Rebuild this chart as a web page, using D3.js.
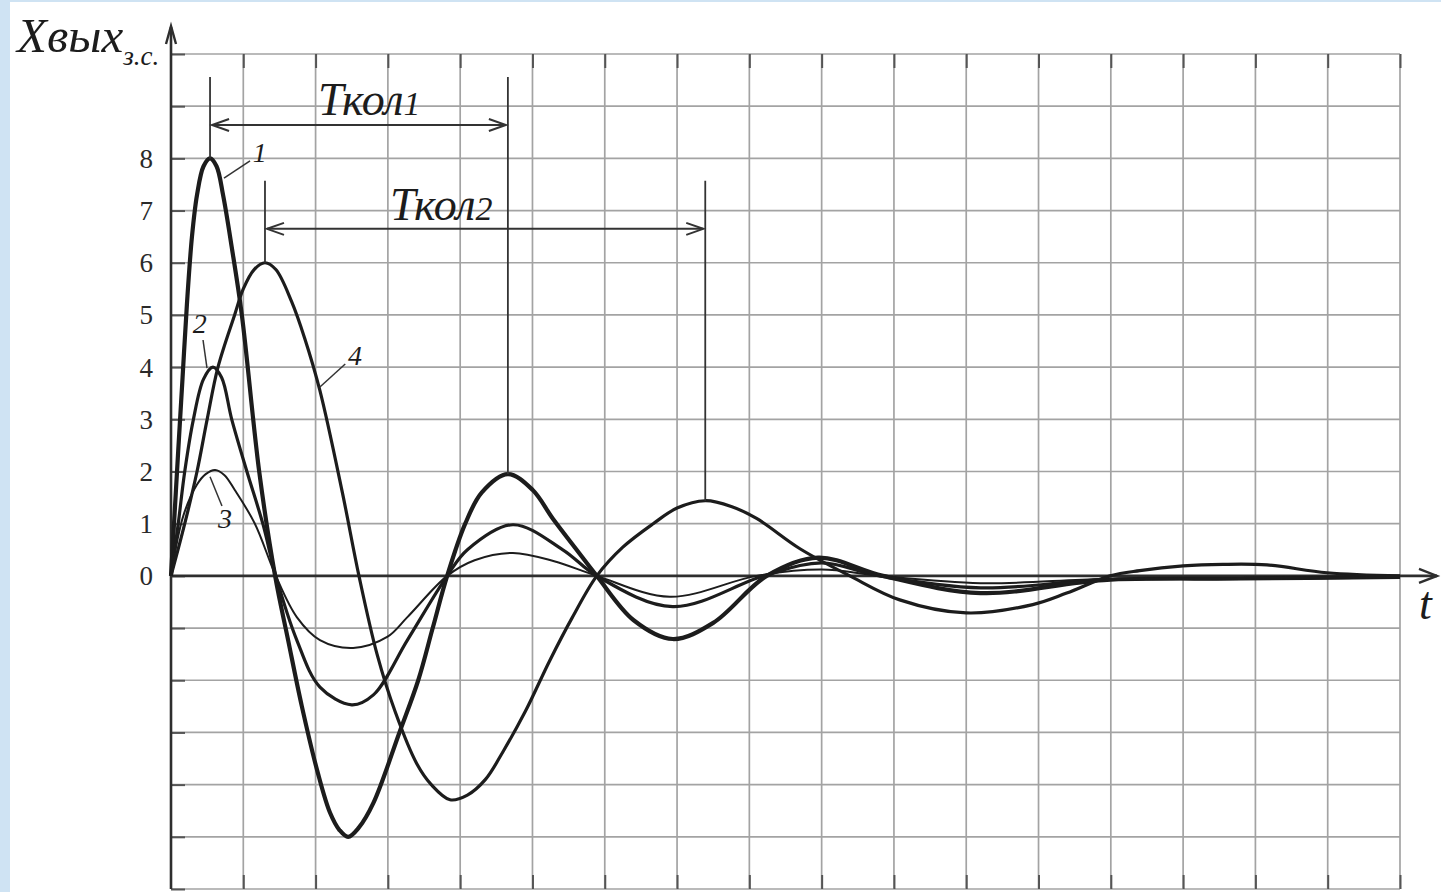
<!DOCTYPE html>
<html>
<head>
  <meta charset="utf-8">
  <title>Xвых з.с.</title>
  <script src="https://d3js.org/d3.v7.min.js"></script>
  <style type="text/css">
    body { margin: 0; background: #fff; }
  </style>
</head>
<body>
  <div id="viz"></div>

<script type="text/javascript">

  // time is counted in grid cells, output in grid units
  const t1 = [0, 0.05, 0.1, 0.16, 0.22, 0.29, 0.36, 0.45, 0.54, 0.63, 0.72, 0.84, 0.98, 1.22, 1.44, 1.62, 1.81, 2.03, 2.2, 2.33, 2.45, 2.6, 2.8, 3.16, 3.42, 3.62, 3.82, 4.07, 4.3, 4.66, 5.0, 5.28, 5.6, 5.89, 6.4, 6.94, 7.5, 8.24, 8.95, 9.85, 11.2, 12.9, 14.8, 17];
  const v1 = [0, 1.2, 2.4, 3.8, 5.2, 6.5, 7.3, 7.85, 8, 7.85, 7.3, 6.3, 5, 2, 0, -1.23, -2.5, -3.77, -4.54, -4.87, -5, -4.82, -4.35, -3, -2, -1, 0, 1, 1.6, 1.95, 1.65, 1.1, 0.52, 0, -0.85, -1.21, -0.9, 0, 0.35, 0, -0.33, -0.08, -0.05, -0.02];

  const t2 = [0, 0.1, 0.19, 0.31, 0.45, 0.58, 0.7, 0.84, 1.05, 1.27, 1.45, 1.74, 2.06, 2.5, 2.8, 3.27, 3.82, 4.1, 4.73, 5.42, 5.89, 6.94, 8.2, 9.0, 9.8, 11.2, 12.9, 14.8, 17];
  const v2 = [0, 1.0, 2, 3, 3.77, 4, 3.8, 3, 2, 1, 0, -1.23, -2.13, -2.47, -2.28, -1.23, 0, 0.5, 0.98, 0.5, 0, -0.59, 0, 0.25, 0, -0.23, -0.07, -0.05, -0.02];

  const t3 = [0, 0.17, 0.36, 0.48, 0.61, 0.74, 0.88, 1.16, 1.45, 1.74, 2.06, 2.52, 2.99, 3.27, 3.82, 4.2, 4.73, 5.3, 5.89, 6.9, 8.1, 9.0, 9.8, 11.2, 12.9, 14.8, 17];
  const v3 = [0, 1.15, 1.75, 1.95, 2.03, 1.93, 1.65, 1, 0, -0.79, -1.23, -1.38, -1.17, -0.79, 0, 0.3, 0.44, 0.28, 0, -0.4, 0, 0.12, 0, -0.14, -0.06, -0.04, -0.02];

  const t4 = [0, 0.19, 0.36, 0.5, 0.65, 0.88, 1.0, 1.15, 1.3, 1.45, 1.67, 1.85, 2.06, 2.37, 2.6, 2.85, 3.1, 3.4, 3.6, 3.86, 4.1, 4.35, 4.6, 4.9, 5.24, 5.55, 5.89, 6.25, 6.67, 7.0, 7.39, 7.75, 8.1, 8.7, 9.39, 10.08, 11.0, 11.92, 12.39, 12.99, 13.4, 14.0, 14.55, 15.16, 15.99, 17];
  const v4 = [0, 1, 2, 3, 4, 5, 5.5, 5.87, 6, 5.87, 5.25, 4.55, 3.55, 1.6, 0, -1.5, -2.6, -3.6, -4.0, -4.29, -4.2, -3.9, -3.35, -2.6, -1.62, -0.8, 0, 0.55, 1.0, 1.3, 1.44, 1.33, 1.1, 0.52, 0, -0.46, -0.71, -0.55, -0.33, 0, 0.1, 0.19, 0.22, 0.21, 0.06, 0];

  const curveNames = ["1", "2", "3", "4"];
  const yTickLabels = [0, 1, 2, 3, 4, 5, 6, 7, 8];
  const tkolNames = ["Ткол", "Ткол"];
  const tkolIndex = ["1", "2"];

  const SERIF = "'Liberation Serif', 'Times New Roman', Times, 'DejaVu Serif', 'Noto Serif', serif";

  const colorSet = {
    "bg": "#ffffff",
    "frame": "#cfe3f3",
    "grid": "#a3a3a3",
    "tick": "#555",
    "axis": "#2e2e2e",
    "ink": "#1c1c1c"
  };

  const FULLW = 1441;
  const FULLH = 892;

  const x = d3.scaleLinear().domain([0, 17]).range([171, 1400]);
  const y = d3.scaleLinear().domain([-6, 10]).range([889, 54]);

  const series = [
    { name: curveNames[0], t: t1, v: v1, w: 4.2 },
    { name: curveNames[1], t: t2, v: v2, w: 3.2 },
    { name: curveNames[2], t: t3, v: v3, w: 2.0 },
    { name: curveNames[3], t: t4, v: v4, w: 3.2 }
  ];

  const line = d3.line()
    .x(function (d) { return x(d[0]); })
    .y(function (d) { return y(d[1]); })
    .curve(d3.curveCatmullRom.alpha(0.5));

  function drawChart() {
    const svg = d3.select("#viz")
      .append("svg")
      .attr("width", FULLW)
      .attr("height", FULLH);

    svg.append("rect")
      .attr("width", FULLW)
      .attr("height", FULLH)
      .attr("fill", colorSet.bg);

    // light blue page frame on the left and top
    svg.append("rect").attr("x", 0).attr("y", 0).attr("width", 10).attr("height", FULLH).attr("fill", colorSet.frame);
    svg.append("rect").attr("x", 0).attr("y", 0).attr("width", FULLW).attr("height", 2).attr("fill", colorSet.frame);

    ////grid
    const grid = svg.append("g");
    grid.selectAll(".vline")
      .data(d3.range(1, 18))
      .join("line")
      .attr("x1", d => x(d)).attr("x2", d => x(d))
      .attr("y1", y(-6)).attr("y2", y(10))
      .attr("stroke", colorSet.grid)
      .attr("stroke-width", 1.7);

    grid.selectAll(".hline")
      .data(d3.range(-6, 11).filter(d => d !== 0))
      .join("line")
      .attr("x1", x(0)).attr("x2", x(17))
      .attr("y1", d => y(d)).attr("y2", d => y(d))
      .attr("stroke", colorSet.grid)
      .attr("stroke-width", 1.7);

    // short ticks on the frame
    const tickAxis = function (g) { g.select(".domain").remove(); g.selectAll("text").remove(); };
    svg.append("g")
      .attr("transform", "translate(0," + y(10) + ")")
      .call(d3.axisBottom(x).tickValues(d3.range(1, 18)).tickSize(14))
      .call(tickAxis)
      .selectAll("line").attr("stroke", colorSet.tick).attr("stroke-width", 2);
    svg.append("g")
      .attr("transform", "translate(0," + y(-6) + ")")
      .call(d3.axisTop(x).tickValues(d3.range(1, 18)).tickSize(14))
      .call(tickAxis)
      .selectAll("line").attr("stroke", colorSet.tick).attr("stroke-width", 2);
    svg.append("g")
      .attr("transform", "translate(" + x(0) + ",0)")
      .call(d3.axisRight(y).tickValues(d3.range(-6, 11)).tickSize(14))
      .call(tickAxis)
      .selectAll("line").attr("stroke", colorSet.tick).attr("stroke-width", 2);

    // y tick labels
    const yAx = svg.append("g")
      .attr("transform", "translate(" + x(0) + ",0)")
      .call(d3.axisLeft(y).tickValues(yTickLabels).tickSize(0).tickPadding(18));
    yAx.attr("font-family", SERIF).attr("font-size", 27);
    yAx.select(".domain").remove();
    yAx.selectAll("text")
      .attr("fill", "#2a2a2a")
      .attr("dy", "0.33em");

    ////axes with arrows
    svg.append("line")
      .attr("x1", x(0)).attr("x2", x(0))
      .attr("y1", y(-6)).attr("y2", 27)
      .attr("stroke", colorSet.axis).attr("stroke-width", 2.6);
    svg.append("path")
      .attr("d", "M" + (x(0) - 5) + ",44 L" + x(0) + ",26 L" + (x(0) + 5) + ",44")
      .attr("fill", "none").attr("stroke", colorSet.axis).attr("stroke-width", 2.4);

    svg.append("line")
      .attr("x1", x(0)).attr("x2", 1437)
      .attr("y1", y(0)).attr("y2", y(0))
      .attr("stroke", colorSet.axis).attr("stroke-width", 2.6);
    svg.append("path")
      .attr("d", "M1419," + (y(0) - 7) + " L1437," + y(0) + " L1419," + (y(0) + 7))
      .attr("fill", "none").attr("stroke", colorSet.axis).attr("stroke-width", 2.4);

    ////curves
    svg.append("g")
      .selectAll("path")
      .data(series)
      .join("path")
      .attr("d", s => line(s.t.map((t, i) => [t, s.v[i]])))
      .attr("fill", "none")
      .attr("stroke", colorSet.ink)
      .attr("stroke-width", s => s.w)
      .attr("stroke-linejoin", "round");

    ////period markers (from the peaks of curves 1 and 4)
    const p1a = v1.indexOf(8), p1b = v1.indexOf(1.95);
    const p4a = v4.indexOf(6), p4b = v4.indexOf(1.44);
    const tk = [
      { start: t1[p1a], end: t1[p1b], top: v1[p1a], bot: v1[p1b], level: 8.64, cap: 9.56, tx: 318, ty: 115 },
      { start: t4[p4a], end: t4[p4b], top: v4[p4a], bot: v4[p4b], level: 6.65, cap: 7.57, tx: 390, ty: 220 }
    ];
    tk.forEach(function (m, i) {
      const g = svg.append("g").attr("stroke", "#333").attr("fill", "none");
      g.append("line").attr("x1", x(m.start)).attr("x2", x(m.start))
        .attr("y1", y(m.cap)).attr("y2", y(m.top)).attr("stroke-width", 1.8);
      g.append("line").attr("x1", x(m.end)).attr("x2", x(m.end))
        .attr("y1", y(m.cap)).attr("y2", y(m.bot)).attr("stroke-width", 1.8);
      const ly = y(m.level);
      const xa = x(m.start) + 2, xb = x(m.end) - 2;
      g.append("line").attr("x1", xa).attr("x2", xb).attr("y1", ly).attr("y2", ly).attr("stroke-width", 2);
      g.append("path").attr("d", "M" + (xa + 17) + "," + (ly - 6) + " L" + xa + "," + ly + " L" + (xa + 17) + "," + (ly + 6))
        .attr("stroke-width", 2);
      g.append("path").attr("d", "M" + (xb - 17) + "," + (ly - 6) + " L" + xb + "," + ly + " L" + (xb - 17) + "," + (ly + 6))
        .attr("stroke-width", 2);

      const txt = svg.append("text")
        .attr("font-family", SERIF)
        .attr("font-style", "italic")
        .attr("x", m.tx).attr("y", m.ty)
        .attr("font-size", 46)
        .attr("fill", colorSet.ink);
      txt.append("tspan").text(tkolNames[i]);
      txt.append("tspan").attr("font-size", 34).text(tkolIndex[i]);
    });

    ////curve labels with leaders
    const lbl = [
      { n: curveNames[0], tx: 1.13, ty: 7.93, a: [0.733, 7.62], b: [1.093, 7.95] },
      { n: curveNames[1], tx: 0.30, ty: 4.66, a: [0.443, 4.52], b: [0.498, 3.98] },
      { n: curveNames[2], tx: 0.65, ty: 0.92, a: [0.54, 1.9], b: [0.705, 1.34] },
      { n: curveNames[3], tx: 2.45, ty: 4.04, a: [2.06, 3.62], b: [2.41, 4.06] }
    ];
    lbl.forEach(function (d) {
      svg.append("line")
        .attr("x1", x(d.a[0])).attr("y1", y(d.a[1]))
        .attr("x2", x(d.b[0])).attr("y2", y(d.b[1]))
        .attr("stroke", "#333").attr("stroke-width", 1.5);
      svg.append("text")
        .attr("font-family", SERIF)
        .attr("font-style", "italic")
        .attr("x", x(d.tx)).attr("y", y(d.ty))
        .attr("font-size", 28)
        .attr("fill", colorSet.ink)
        .text(d.n);
    });

    ////axis titles
    const yt = svg.append("text")
      .attr("font-family", SERIF)
      .attr("font-style", "italic")
      .attr("x", 17).attr("y", 52)
      .attr("fill", colorSet.ink);
    yt.append("tspan")
      .attr("font-size", 49)
      .text("Xвых");
    yt.append("tspan")
      .attr("font-size", 27)
      .attr("dy", 13)
      .text("з.с.");

    svg.append("text")
      .attr("font-family", SERIF)
      .attr("font-style", "italic")
      .attr("x", 1419).attr("y", 619)
      .attr("font-size", 46)
      .attr("fill", colorSet.ink)
      .text("t");
  }

  drawChart();

</script>
</body>
</html>
